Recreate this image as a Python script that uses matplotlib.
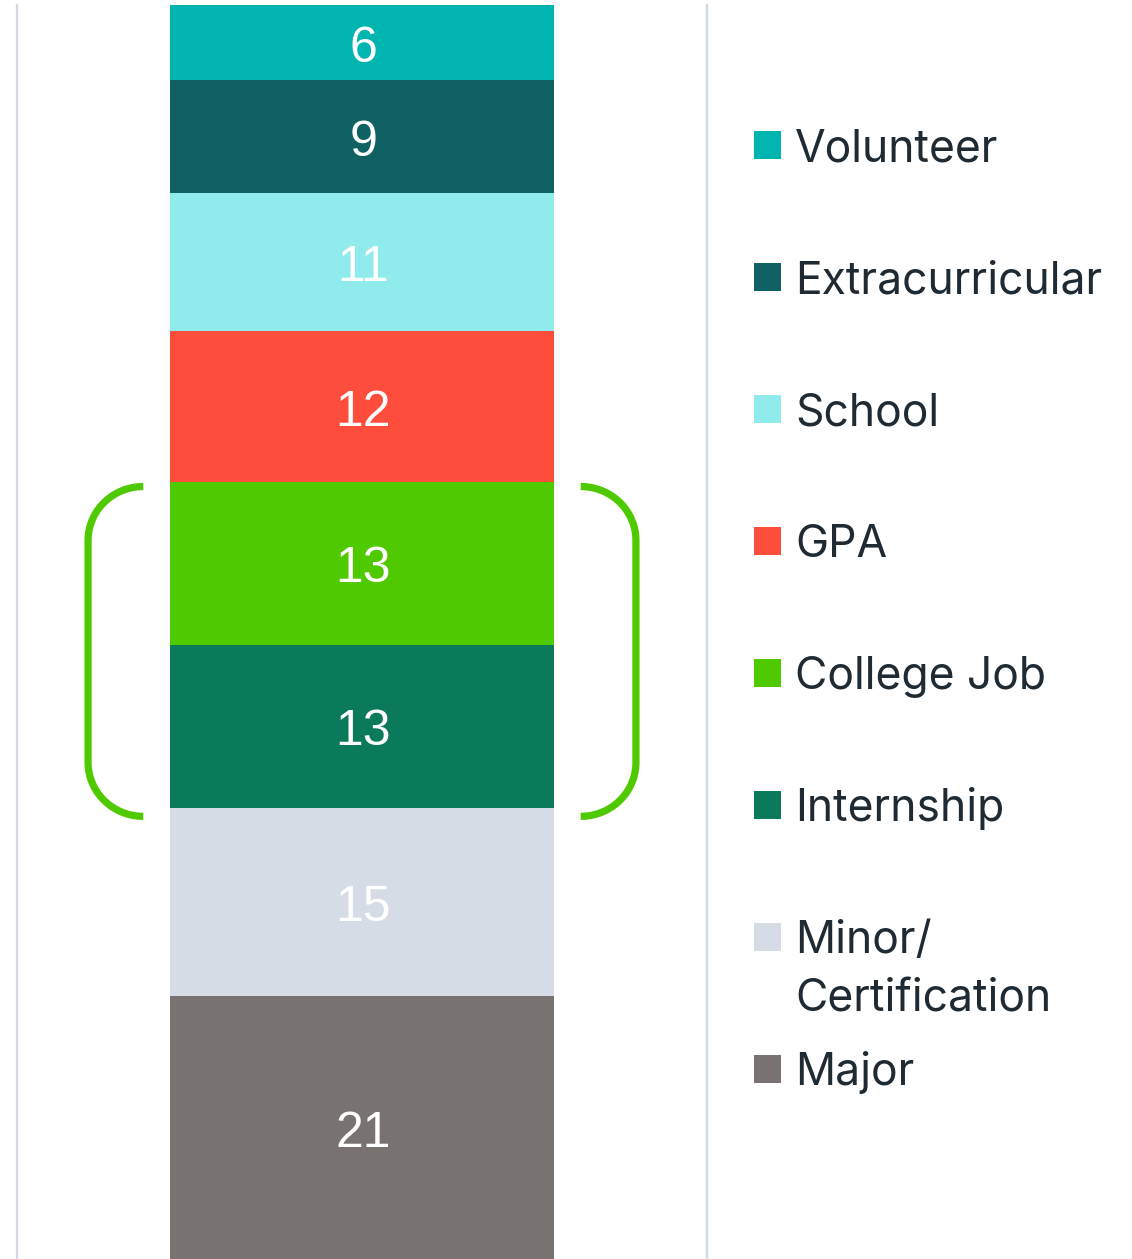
import numpy as np
import matplotlib
matplotlib.use("Agg")
from matplotlib import pyplot as plt
from matplotlib.patches import Rectangle

# stacked from the bottom up
categories = ["Major", "Minor/\nCertification", "Internship", "College Job",
              "GPA", "School", "Extracurricular", "Volunteer"]
values = [21, 15, 13, 13, 12, 11, 9, 6]
colors = ["#787371", "#D6DCE5", "#0A7A5A", "#4FCA00",
          "#FF4D3B", "#90ECEC", "#0F6163", "#00B5B0"]
bracket_group = ["Internship", "College Job"]

W, H = 1132, 1259
fig = plt.figure(figsize=(W / 100, H / 100), dpi=100)
# axes spans between the two thin vertical rules
ax = fig.add_axes([17 / W, 0, (707 - 17) / W, (H - 5) / H])
ax.set_xlim(-0.5, 0.5)
ax.set_ylim(0, 100)

bar_w = 384 / 690
bottoms = np.concatenate([[0], np.cumsum(values)[:-1]])
for cat, v, b, c in zip(categories, values, bottoms, colors):
    ax.bar(0, v, bottom=b, width=bar_w, color=c, linewidth=0)
    ax.annotate(str(v), (0, b + v / 2), xytext=(1, -4.5), textcoords="offset points",
                ha="center", va="center", color="white",
                fontsize=36, family="Liberation Sans")

# rounded brackets around the two job rows
idx = [categories.index(g) for g in bracket_group]
y_lo = bottoms[min(idx)] - 0.7
y_hi = bottoms[max(idx)] + values[max(idx)] - 0.4
rx, ry = 0.08, 4.3
t = np.linspace(0, np.pi / 2, 40)
for side in (-1, 1):
    xv = side * 0.397
    xe = side * 0.317
    top_x = xe + (xv - xe) * np.sin(t)
    top_y = y_hi - ry + ry * np.cos(t)
    bx = xv + (xe - xv) * (1 - np.cos(t))
    by = y_lo + ry - ry * np.sin(t)
    xs = np.concatenate([top_x, bx])
    ys = np.concatenate([top_y, by])
    ax.plot(xs, ys, color="#4FCA00", lw=5.2, solid_capstyle="butt")

for s in ["top", "bottom"]:
    ax.spines[s].set_visible(False)
for s in ["left", "right"]:
    ax.spines[s].set_color("#D3D9E3")
    ax.spines[s].set_linewidth(1.7)
ax.set_xticks([])
ax.set_yticks([])

# legend, top to bottom; extra lines of a label go below the first
leg_y0 = 145
step = 132
line_step = 58
for i, (cat, c) in enumerate(zip(categories[::-1], colors[::-1])):
    yc = leg_y0 + i * step
    fig.add_artist(Rectangle((754 / W, 1 - (yc + 14) / H), 27 / W, 28 / H,
                             transform=fig.transFigure, color=c, lw=0))
    for j, line in enumerate(cat.split("\n")):
        fig.text(795 / W, 1 - (yc + 16 + j * line_step) / H, line, ha="left",
                 va="baseline", fontsize=32, family="Inter", color="#1F2A33")

fig.savefig("out.png", dpi=100)
